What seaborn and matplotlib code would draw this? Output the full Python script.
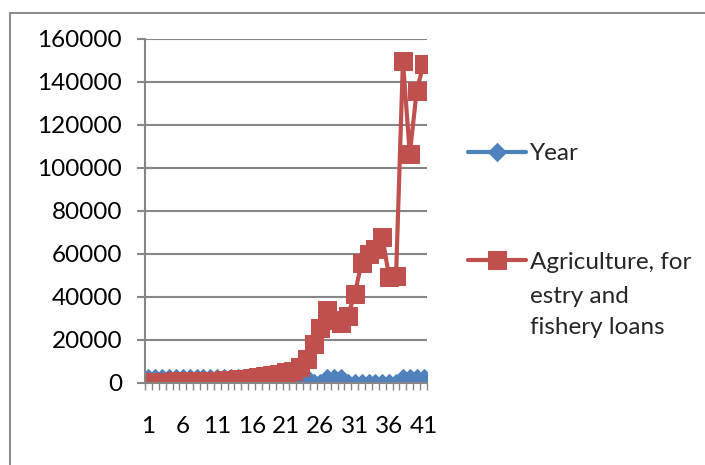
import matplotlib
matplotlib.use("Agg")
import matplotlib.pyplot as plt
import seaborn as sns
import numpy as np
import pandas as pd
from matplotlib.patches import Rectangle

sns.set_theme(style="white")
plt.rcParams["font.family"] = ["Lato", "DejaVu Sans"]

# Observation index 1..41
obs = list(range(1, 42))

# "Year" series as stored in the sheet (a few cells hold 0)
year_vals = [1970, 1971, 1972, 1973, 1974, 1975, 1976, 1977, 1978, 1979,
             1980, 1981, 1982, 1983, 1984, 1985, 1986, 1987, 1988, 1989,
             1990, 1991, 1992, 1993, 0, 0, 1996, 1997, 1998, 0,
             0, 0, 0, 0, 0, 0, 0, 2007, 2008, 2009, 2010]

# Agriculture, forestry and fishery loans
agri_vals = [300, 350, 400, 450, 500, 550, 600, 650, 700, 800,
             900, 1000, 1200, 1400, 1700, 2000, 2400, 2900, 3400, 4000,
             4800, 5500, 7300, 10700, 18000, 25200, 33800, 29000, 27500, 31000,
             41200, 55800, 60000, 62300, 67800, 49000, 49500, 149500, 106300, 135500,
             148300]

colors = {"Year": "#4F81BD", "Agri": "#C0504D"}
FS = 17.5

df_year = pd.DataFrame({"obs": obs, "value": year_vals})
df_agri = pd.DataFrame({"obs": obs, "value": agri_vals})

fig = plt.figure(figsize=(7.05, 4.65), dpi=100)
ax = fig.add_axes([145 / 705, 1 - 382.5 / 465, 282 / 705, (382.5 - 38.5) / 465])

sns.lineplot(data=df_year, x="obs", y="value", ax=ax, color=colors["Year"],
             marker="D", markersize=9.5, markeredgecolor=colors["Year"],
             linewidth=3, label="Year", legend=False)
sns.lineplot(data=df_agri, x="obs", y="value", ax=ax, color=colors["Agri"],
             marker="s", markersize=13.5, markeredgecolor=colors["Agri"],
             linewidth=3, label="Agriculture, for", legend=False)

ax.set_xlim(0.5, 41.5)
ax.set_ylim(0, 160000)
ax.set_xlabel("")
ax.set_ylabel("")

grid_c = "#868686"
ax.set_yticks(np.arange(0, 160001, 20000))
ax.set_yticklabels([str(v) for v in range(0, 160001, 20000)])
ax.yaxis.grid(True, color=grid_c, linewidth=1.5)
ax.set_axisbelow(True)

# category boundary ticks, labels every fifth category
ax.set_xticks(np.arange(0.5, 42, 1))
ax.set_xticklabels([])
ax.set_xticks(obs[::5], minor=True)
ax.set_xticklabels([str(v) for v in obs[::5]], minor=True)
ax.tick_params(axis="x", which="major", length=5, width=1, color=grid_c, direction="out", bottom=True)
ax.tick_params(axis="x", which="minor", length=0, pad=24, labelsize=FS, labelcolor="black")
ax.tick_params(axis="y", which="major", length=6, width=1.5, color=grid_c, direction="out", left=True,
               pad=10.5, labelsize=FS, labelcolor="black")

for side in ["top", "right"]:
    ax.spines[side].set_visible(False)
for side in ["left", "bottom"]:
    ax.spines[side].set_color(grid_c)
    ax.spines[side].set_linewidth(1.5)

handles, labels = ax.get_legend_handles_labels()
leg = fig.legend(handles, labels, loc="upper left", bbox_to_anchor=(468 / 705, 1 - 143 / 465),
                 frameon=False, fontsize=FS, handlelength=2.4, handletextpad=0.15,
                 labelspacing=3.6, borderpad=0, borderaxespad=0)
# continuation of the wrapped legend label
fig.text(530 / 705, 1 - 296 / 465, "estry and", fontsize=FS, va="center", ha="left")
fig.text(530 / 705, 1 - 328 / 465, "fishery loans", fontsize=FS, va="center", ha="left")

# outer chart-area frame
fig.patches.append(Rectangle((10 / 705, -0.2), 1.2, 1 - 13 / 465 + 0.2, transform=fig.transFigure,
                             fill=False, edgecolor="#8C8C8C", linewidth=1.5))

fig.savefig("out.png", dpi=100, facecolor="white")
